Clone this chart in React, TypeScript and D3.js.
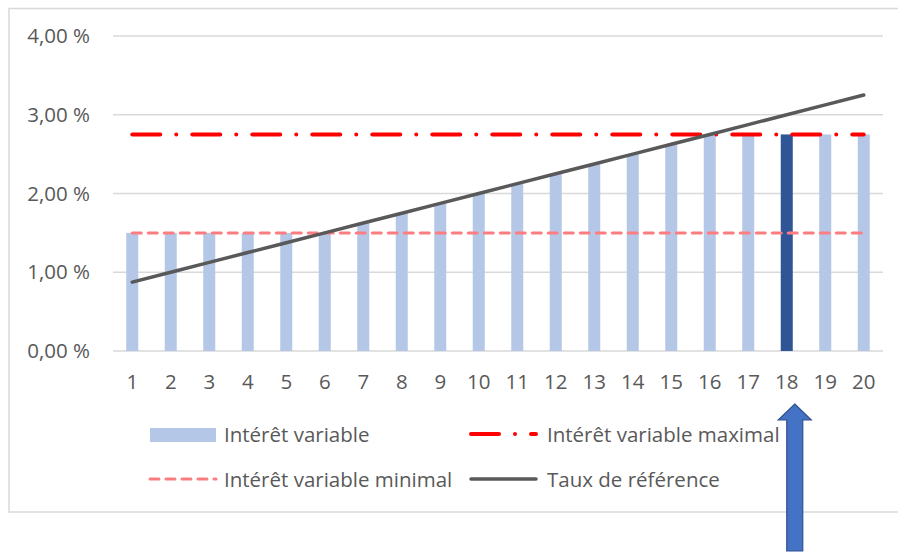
import React from "react";
import * as d3 from "d3";

const categories = ["1","2","3","4","5","6","7","8","9","10","11","12","13","14","15","16","17","18","19","20"];
const interetVariable = [1.5,1.5,1.5,1.5,1.5,1.5,1.625,1.75,1.875,2.0,2.125,2.25,2.375,2.5,2.625,2.75,2.75,2.75,2.75,2.75];
const interetMax = [2.75,2.75,2.75,2.75,2.75,2.75,2.75,2.75,2.75,2.75,2.75,2.75,2.75,2.75,2.75,2.75,2.75,2.75,2.75,2.75];
const interetMin = [1.5,1.5,1.5,1.5,1.5,1.5,1.5,1.5,1.5,1.5,1.5,1.5,1.5,1.5,1.5,1.5,1.5,1.5,1.5,1.5];
const tauxReference = [0.875,1.0,1.125,1.25,1.375,1.5,1.625,1.75,1.875,2.0,2.125,2.25,2.375,2.5,2.625,2.75,2.875,3.0,3.125,3.25];
const yTicks = [0, 1, 2, 3, 4];
const highlighted = "18";
const legendLabels = ["Intérêt variable", "Intérêt variable maximal", "Intérêt variable minimal", "Taux de référence"];

const FONT = "'Open Sans', sans-serif";
const TXT = "#595959";
const FS = 20.5;

export default function App() {
  const x = d3.scaleBand<string>().domain(categories).range([113, 883]).paddingInner(0.688).paddingOuter(0.344);
  const y = d3.scaleLinear().domain([0, 4]).range([351, 36]);
  const cx = (c: string) => (x(c) as number) + x.bandwidth() / 2;
  const fmt = (v: number) => v.toFixed(2).replace(".", ",") + " %";
  const line = d3.line<number>().x((_, i) => cx(categories[i])).y((d) => y(d));

  const ax = cx(highlighted) + 8;
  const arrowPath = `M${ax},404 L${ax + 16.5},420 L${ax + 8},420 L${ax + 8},551 L${ax - 8},551 L${ax - 8},420 L${ax - 16.5},420 Z`;

  return (
    <svg width={898} height={552} style={{ position: "absolute", left: 0, top: 0, background: "#fff" }} fontFamily={FONT}>
      <rect x={9} y={8.5} width={900} height={503.5} fill="#fff" stroke="#d9d9d9" strokeWidth={1.5} />
      {yTicks.map((t) => (
        <g key={t}>
          <line x1={113} x2={883} y1={y(t)} y2={y(t)} stroke="#d9d9d9" strokeWidth={1.5} />
          <text x={90} y={y(t)} dy="0.35em" textAnchor="end" fontSize={FS} fill={TXT}>{fmt(t)}</text>
        </g>
      ))}
      {categories.map((c, i) => (
        <rect key={c} x={x(c)} width={x.bandwidth()} y={y(interetVariable[i])} height={y(0) - y(interetVariable[i])}
          fill={c === highlighted ? "#2f5597" : "#b4c7e7"} />
      ))}
      {categories.map((c) => (
        <text key={c} x={cx(c)} y={382} dy="0.35em" textAnchor="middle" fontSize={FS} fill={TXT}>{c}</text>
      ))}
      <path d={line(interetMin) as string} fill="none" stroke="#ff7c80" strokeWidth={3} strokeDasharray="9 7" strokeLinecap="round" />
      <path d={line(interetMax) as string} fill="none" stroke="#ff0000" strokeWidth={4} strokeDasharray="28 16 0 16" strokeLinecap="round" />
      <path d={line(tauxReference) as string} fill="none" stroke="#595959" strokeWidth={3.5} strokeLinecap="round" />

      {/* legend */}
      <rect x={150} y={428} width={66} height={14} fill="#b4c7e7" />
      <text x={224} y={435} dy="0.35em" fontSize={FS} fill={TXT}>{legendLabels[0]}</text>
      <line x1={471} x2={536} y1={434} y2={434} stroke="#ff0000" strokeWidth={4} strokeDasharray="28 16 0 16" strokeLinecap="round" />
      <text x={547} y={435} dy="0.35em" fontSize={FS} fill={TXT}>{legendLabels[1]}</text>
      <line x1={150} x2={216} y1={479} y2={479} stroke="#ff7c80" strokeWidth={3} strokeDasharray="9 7" strokeLinecap="round" />
      <text x={224} y={480} dy="0.35em" fontSize={FS} fill={TXT}>{legendLabels[2]}</text>
      <line x1={471} x2={536} y1={479} y2={479} stroke="#595959" strokeWidth={3.5} strokeLinecap="round" />
      <text x={547} y={480} dy="0.35em" fontSize={FS} fill={TXT}>{legendLabels[3]}</text>

      <path d={arrowPath} fill="#4472c4" stroke="#2f528f" strokeWidth={1.2} />
    </svg>
  );
}
